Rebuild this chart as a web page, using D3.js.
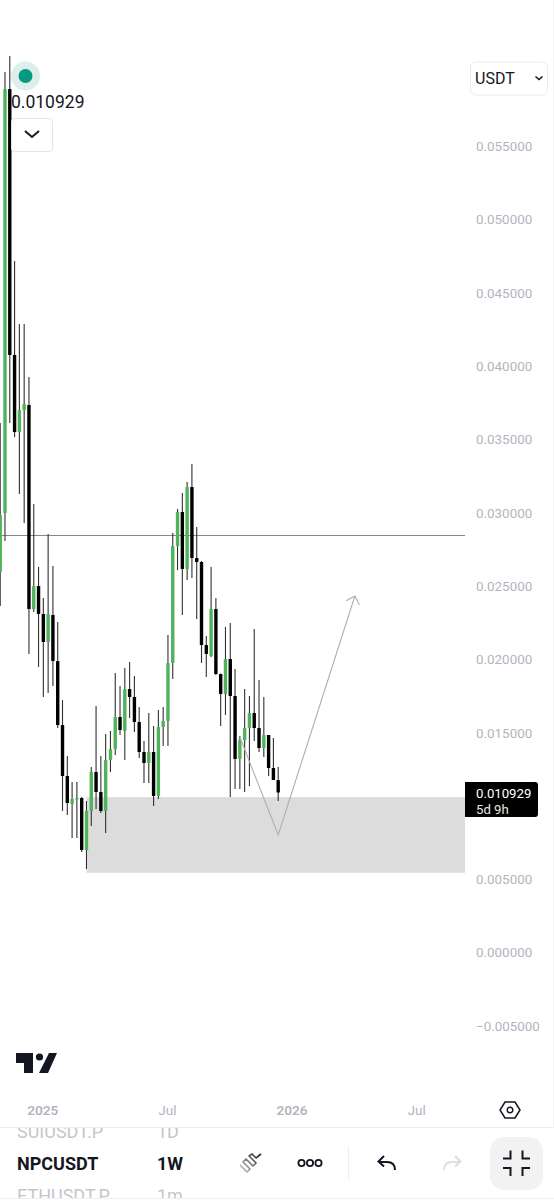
<!DOCTYPE html>
<html><head><meta charset="utf-8">
<script src="https://cdn.jsdelivr.net/npm/d3@7"></script>
<style>html,body{margin:0;padding:0;background:#fff}svg{display:block;font-family:Roboto,sans-serif}</style>
</head><body><svg id="c" width="554" height="1200"></svg>
<script>
const opens=[.02597,.02999,.05892,.04077,.03552,.03702,.03736,.02344,.02501,.02310,.02119,.02304,.01990,.01553,.01205,.01014,.01048,.01055,.00701,.00967,.01233,.01096,.00967,.01314,.01389,.01608,.01512,.01799,.01744,.01574,.01369,.01294,.01369,.01069,.01540,.01580,.01976,.02774,.03006,.02617,.03177,.02692,.02665,.02099,.02024,.02344,.01901,.01765,.02003,.01751,.01321,.01451,.01533,.01635,.01533,.01396,.01485,.01260,.01178];
const closes=[.02986,.05892,.04077,.03552,.03702,.03743,.02344,.02501,.02310,.02119,.02310,.01990,.01553,.01205,.01021,.01048,.01055,.00701,.00967,.01233,.01096,.00967,.01314,.01389,.01608,.01519,.01799,.01744,.01574,.01369,.01294,.01369,.01069,.01540,.01580,.01976,.02774,.03006,.02617,.03177,.02692,.02665,.02099,.02038,.02344,.01901,.01765,.02003,.01751,.01321,.01451,.01533,.01635,.01533,.01396,.01485,.01260,.01178,.010929];
const highs=[.03613,.06008,.06117,.04718,.04289,.04289,.03927,.03061,.02631,.02419,.02856,.02638,.02256,.01724,.01342,.01164,.01164,.01062,.01035,.01267,.01683,.01342,.01492,.01512,.01908,.01819,.01942,.01983,.01887,.01676,.01444,.01635,.01546,.01656,.01676,.02167,.02863,.03027,.03136,.03211,.03334,.02904,.02672,.02160,.02631,.02419,.01905,.02222,.02249,.01935,.01478,.01799,.01751,.02208,.01860,.01744,.01485,.01465,.01267];
const lows=[.02365,.02808,.03613,.03518,.03129,.02931,.02038,.02324,.01949,.01744,.01771,.01819,.01533,.00967,.00939,.00782,.00782,.00687,.00571,.00864,.00980,.00953,.00817,.01233,.01349,.01485,.01314,.01601,.01505,.01328,.01158,.01158,.01001,.01048,.01410,.01410,.01867,.02610,.02304,.02542,.02556,.02276,.01976,.01881,.02017,.01894,.01546,.01621,.01062,.01117,.01117,.01096,.01137,.01444,.01369,.01335,.01205,.01178,.01035];
const priceTicks=[-0.005,0,0.005,0.01,0.015,0.02,0.025,0.03,0.035,0.04,0.045,0.05,0.055];
const timeTickIdx=[9,35,61,87];
const timeTickLabels=["2025","Jul","2026","Jul"];
const lastPrice=0.010929;
const levelPrice=0.02846;
const zonePrices=[0.01061,0.00545];
const zoneStartIdx=18;
const pathIdx=[50,58,74];
const pathPrices=[0.01471,0.00803,0.02433];
const pairs=[["SUIUSDT.P","1D"],["NPCUSDT","1W"],["ETHUSDT.P","1m"]];

const svg=d3.select("#c");
const plotRight=465;
const x=d3.scaleLinear().domain([0,58]).range([0.2,278.2]);
const y=d3.scaleLinear().domain([-0.005,0.055]).range([1026,146.4]);
const UP="#4fb35a",DN="#000",GRID="#b2b5be";

svg.append("line").attr("x1",553.5).attr("x2",553.5).attr("y1",0).attr("y2",1127).attr("stroke","#f3f3f3");

svg.append("rect").attr("x",x(zoneStartIdx)).attr("width",plotRight-x(zoneStartIdx))
  .attr("y",y(zonePrices[0])).attr("height",y(zonePrices[1])-y(zonePrices[0])).attr("fill","#dcdcdc");
svg.append("line").attr("x1",0).attr("x2",plotRight).attr("y1",y(levelPrice)).attr("y2",y(levelPrice))
  .attr("stroke","#858585").attr("stroke-width",1);

const idx=d3.range(opens.length);
const g=svg.append("g");
g.selectAll("line.w").data(idx).join("line").attr("class","w")
  .attr("x1",i=>x(i)).attr("x2",i=>x(i)).attr("y1",i=>y(highs[i])).attr("y2",i=>y(lows[i]))
  .attr("stroke","#303030").attr("stroke-width",1.1);
g.selectAll("rect.b").data(idx).join("rect").attr("class","b")
  .attr("x",i=>x(i)-1.7).attr("width",3.4)
  .attr("y",i=>y(Math.max(opens[i],closes[i])))
  .attr("height",i=>Math.max(1.5,Math.abs(y(opens[i])-y(closes[i]))))
  .attr("rx",.5)
  .attr("fill",i=>closes[i]>=opens[i]?UP:DN);

const pts=pathIdx.map((d,i)=>[x(d),y(pathPrices[i])]);
svg.append("path").attr("d",d3.line()(pts)).attr("fill","none").attr("stroke","#aeaeae").attr("stroke-width",1.1);
const e=pts[2],p=pts[1],ang=Math.atan2(e[1]-p[1],e[0]-p[0]);
const wing=a=>[e[0]-10*Math.cos(ang+a),e[1]-10*Math.sin(ang+a)];
svg.append("path").attr("d",d3.line()([wing(.78),e,wing(-.78)])).attr("fill","none").attr("stroke","#aeaeae").attr("stroke-width",1.1);

const ya=svg.append("g").attr("transform",`translate(${plotRight},0)`)
  .call(d3.axisRight(y).tickValues(priceTicks).tickSize(0).tickPadding(11).tickFormat(d=>d3.format(".6f")(d).replace("-","\u2212")));
ya.select(".domain").remove();
ya.selectAll("text").attr("fill",GRID).style("font-size","13.4px").style("font-family","Roboto,sans-serif");

svg.append("path").attr("d","M465 782H535a3 3 0 0 1 3 3V814a3 3 0 0 1 -3 3H465Z").attr("fill","#000");
svg.append("text").attr("x",476).attr("y",798).attr("fill","#fff").attr("font-size",13.2).text("0.010929");
svg.append("text").attr("x",476).attr("y",813.5).attr("fill","#e6e6e6").attr("font-size",13.2).text("5d 9h");

const xa=svg.append("g").attr("transform","translate(-1,1110)")
  .call(d3.axisBottom(x).tickValues(timeTickIdx).tickSize(0).tickPadding(0).tickFormat((d,i)=>timeTickLabels[i]));
xa.select(".domain").remove();
xa.selectAll("text").attr("fill",GRID).attr("dy","0.35em").style("font-size","13.6px").style("font-family","Roboto,sans-serif")
  .style("font-weight",(d,i)=>i%2==0?600:400);

svg.append("circle").attr("cx",25.5).attr("cy",76).attr("r",14.5).attr("fill","#dcefec");
svg.append("circle").attr("cx",25.5).attr("cy",76).attr("r",7).attr("fill","#089981");
svg.append("text").attr("x",11).attr("y",108).attr("fill","#131722").attr("font-size",17.5).text(lastPrice.toFixed(6));
svg.append("rect").attr("x",11.5).attr("y",118.5).attr("width",41).attr("height",33).attr("rx",3).attr("fill","#fff").attr("stroke","#e3e3e3");
svg.append("path").attr("d","M25 131l7 6 7-6").attr("fill","none").attr("stroke","#131722").attr("stroke-width",2);

svg.append("rect").attr("x",470.5).attr("y",62).attr("width",77).attr("height",33).attr("rx",5).attr("fill","#fff").attr("stroke","#eaeaea");
svg.append("text").attr("x",475).attr("y",83.5).attr("fill","#131722").attr("font-size",16).text("USDT");
svg.append("path").attr("d","M535.5 76.5l3.5 3 3.5-3").attr("fill","none").attr("stroke","#131722").attr("stroke-width",1.6);

svg.append("path").attr("d","M16 1053H33V1073H24V1063H16Z M49 1053H57L48 1073H39Z").attr("fill","#131722");
svg.append("circle").attr("cx",39.5).attr("cy",1057).attr("r",3.6).attr("fill","#131722");

svg.append("path").attr("d","M505 1102H515L520 1110L515 1118H505L500 1110Z").attr("fill","none").attr("stroke","#131722").attr("stroke-width",1.5);
svg.append("circle").attr("cx",510).attr("cy",1110).attr("r",2.8).attr("fill","none").attr("stroke","#131722").attr("stroke-width",1.4);

svg.append("rect").attr("x",0).attr("y",1127).attr("width",554).attr("height",73).attr("fill","#fff");
const defs=svg.append("defs");
defs.append("clipPath").attr("id","bar").append("rect").attr("x",0).attr("y",1128).attr("width",230).attr("height",70);
const bar=svg.append("g").attr("clip-path","url(#bar)");
const rowY=[1138,1170,1202];
pairs.forEach((r,i)=>{
  const on=i==1;
  bar.append("text").attr("x",17).attr("y",rowY[i]).attr("fill",on?"#131722":"#c4c6cc").attr("font-size",18).attr("font-weight",on?700:400).text(r[0]);
  bar.append("text").attr("x",157).attr("y",rowY[i]).attr("fill",on?"#131722":"#c4c6cc").attr("font-size",18).attr("font-weight",on?700:400).text(r[1]);
});
svg.append("line").attr("x1",0).attr("x2",554).attr("y1",1127.5).attr("y2",1127.5).attr("stroke","#ececec");
svg.append("line").attr("x1",0).attr("x2",554).attr("y1",1198.5).attr("y2",1198.5).attr("stroke","#f0f0f0");

const lg=defs.append("linearGradient").attr("id","br").attr("gradientUnits","userSpaceOnUse").attr("x1",240).attr("y1",1172).attr("x2",261).attr("y2",1154);
lg.append("stop").attr("offset",0).attr("stop-color","#ccc");lg.append("stop").attr("offset",.6).attr("stop-color","#666");lg.append("stop").attr("offset",1).attr("stop-color","#222");
svg.append("path").attr("d","M240 1165L247 1172L250 1169L243 1162L246 1159L253 1166L256 1163L249 1156L252 1154L256 1158L261 1154").attr("fill","none").attr("stroke","url(#br)").attr("stroke-width",1.7).attr("stroke-linejoin","round");
[301.5,310,318.5].forEach(cx=>svg.append("circle").attr("cx",cx).attr("cy",1163).attr("r",3.1).attr("fill","none").attr("stroke","#131722").attr("stroke-width",1.8));
svg.append("line").attr("x1",348.5).attr("x2",348.5).attr("y1",1147).attr("y2",1180).attr("stroke","#eee");
svg.append("path").attr("d","M395 1170c0-6-4-8-8-8h-8M384 1156l-5.5 5.5 5.5 5").attr("fill","none").attr("stroke","#131722").attr("stroke-width",2);
svg.append("path").attr("d","M444 1170c0-6 4-8 8-8h8M455 1156l5.5 5.5-5.5 5").attr("fill","none").attr("stroke","#dedede").attr("stroke-width",2);
svg.append("rect").attr("x",490).attr("y",1137).attr("width",53).attr("height",53).attr("rx",14).attr("fill","#f2f2f2");
svg.append("path").attr("d","M503 1158.5h7.5v-8 M530 1158.5h-7.5v-8 M503 1168h7.5v8 M530 1168h-7.5v8").attr("fill","none").attr("stroke","#131722").attr("stroke-width",2);
</script></body></html>
